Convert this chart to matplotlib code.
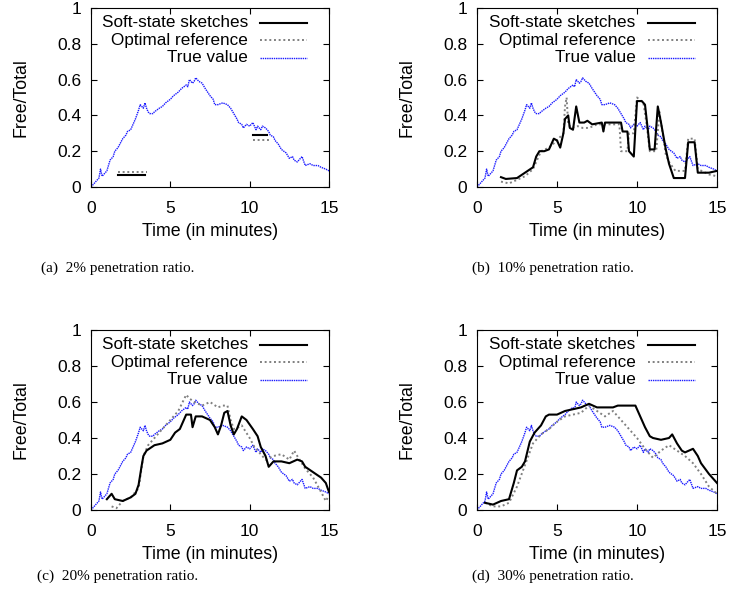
import numpy as np
import matplotlib.pyplot as plt

# true value (same in every panel)
true_t = [0, 0.2, 0.4, 0.5, 0.6, 0.7, 0.8, 1.0, 1.1, 1.2, 1.4, 1.5, 1.7, 2.0, 2.2, 2.3, 2.5,
          2.7, 2.8, 3.0, 3.1, 3.2, 3.3, 3.4, 3.5, 3.6, 3.7, 3.9, 4.0, 4.3, 4.5, 4.7, 5.0,
          5.2, 5.5, 5.7, 6.0, 6.1, 6.2, 6.4, 6.5, 6.6, 6.8, 7.0, 7.2, 7.5, 7.7, 7.8, 8.0,
          8.3, 8.6, 8.8, 9.0, 9.2, 9.3, 9.5, 9.6, 9.8, 10.0, 10.2, 10.4, 10.5, 10.7, 10.8,
          11.0, 11.2, 11.3, 11.5, 11.6, 11.8, 12.0, 12.3, 12.5, 12.7, 12.8, 13.0, 13.2,
          13.3, 13.5, 13.8, 14.0, 14.3, 14.5, 14.8, 15.0]
true_v = [0.0, 0.02, 0.04, 0.05, 0.1, 0.06, 0.07, 0.09, 0.12, 0.15, 0.17, 0.2, 0.22, 0.27,
          0.29, 0.31, 0.32, 0.36, 0.38, 0.43, 0.46, 0.45, 0.44, 0.47, 0.44, 0.42, 0.41,
          0.41, 0.42, 0.44, 0.45, 0.47, 0.49, 0.51, 0.53, 0.55, 0.57, 0.56, 0.6, 0.58,
          0.59, 0.61, 0.59, 0.58, 0.55, 0.51, 0.49, 0.46, 0.46, 0.47, 0.46, 0.44, 0.41,
          0.38, 0.36, 0.35, 0.33, 0.35, 0.34, 0.36, 0.32, 0.34, 0.32, 0.34, 0.33, 0.31,
          0.29, 0.28, 0.26, 0.24, 0.21, 0.19, 0.16, 0.17, 0.15, 0.14, 0.16, 0.17, 0.12,
          0.13, 0.12, 0.12, 0.11, 0.1, 0.09]

# (a) 2%
soft_a_t = [1.7, 3.4, np.nan, 10.2, 11.1]
soft_a_v = [0.065, 0.065, np.nan, 0.29, 0.29]
opt_a_t = [1.7, 3.5, np.nan, 4.45, 4.5, np.nan, 4.45, 4.5, np.nan, 10.2, 11.2]
opt_a_v = [0.085, 0.085, np.nan, 0.07, 0.07, np.nan, 0.04, 0.04, np.nan, 0.265, 0.265]

# (b) 10%
soft_b_t = [1.5, 1.8, 2.5, 3.0, 3.5, 3.7, 3.9, 4.2, 4.5, 4.8, 5.0, 5.2, 5.4, 5.5, 5.7, 5.8,
            6.0, 6.2, 6.4, 6.7, 6.9, 7.2, 7.8, 7.9, 8.0, 9.0, 9.1, 9.4, 9.5, 9.8, 10.0,
            10.3, 10.5, 10.7, 10.8, 11.1, 11.3, 11.5, 11.8, 12.0, 12.3, 13.0, 13.2, 13.6,
            13.8, 14.0, 14.5, 15.0]
soft_b_v = [0.055, 0.045, 0.05, 0.08, 0.11, 0.17, 0.2, 0.2, 0.21, 0.27, 0.26, 0.22, 0.3,
            0.38, 0.4, 0.33, 0.32, 0.45, 0.36, 0.36, 0.37, 0.35, 0.36, 0.31, 0.36, 0.36,
            0.31, 0.31, 0.2, 0.17, 0.48, 0.48, 0.46, 0.3, 0.21, 0.21, 0.45, 0.36, 0.21,
            0.13, 0.05, 0.05, 0.25, 0.25, 0.08, 0.08, 0.08, 0.09]
opt_b_t = [1.5, 2.0, 3.0, 3.5, 4.0, 4.5, 5.0, 5.4, 5.5, 5.6, 5.7, 5.9, 6.3, 6.6, 7.0, 7.5,
           8.5, 8.9, 9.0, 9.4, 9.5, 9.8, 10.0, 10.4, 10.6, 10.8, 11.2, 11.4, 11.6, 11.8,
           12.0, 12.4, 13.0, 13.2, 13.6, 13.8, 14.5, 15.0]
opt_b_v = [0.03, 0.02, 0.06, 0.1, 0.2, 0.22, 0.26, 0.3, 0.45, 0.5, 0.35, 0.33, 0.34, 0.33,
           0.33, 0.35, 0.35, 0.35, 0.2, 0.2, 0.3, 0.3, 0.5, 0.47, 0.35, 0.2, 0.2, 0.42,
           0.3, 0.18, 0.14, 0.09, 0.09, 0.27, 0.27, 0.1, 0.07, 0.06]

# (c) 20%
soft_c_t = [1.0, 1.3, 1.5, 2.0, 2.5, 2.8, 3.0, 3.2, 3.3, 3.5, 4.0, 4.5, 5.0, 5.3, 5.6, 6.0,
            6.3, 6.4, 6.6, 7.0, 7.5, 7.8, 8.0, 8.2, 8.4, 8.6, 8.8, 9.0, 9.2, 9.5, 9.8,
            10.2, 10.5, 10.7, 11.0, 11.2, 11.5, 12.0, 12.5, 13.0, 13.3, 13.5, 14.0, 14.5,
            14.8, 15.0]
soft_c_v = [0.06, 0.09, 0.06, 0.05, 0.07, 0.09, 0.14, 0.25, 0.3, 0.33, 0.36, 0.37, 0.39,
            0.43, 0.45, 0.53, 0.53, 0.46, 0.52, 0.52, 0.5, 0.46, 0.42, 0.47, 0.54, 0.55,
            0.47, 0.42, 0.45, 0.52, 0.5, 0.45, 0.41, 0.35, 0.3, 0.24, 0.27, 0.27, 0.26,
            0.28, 0.27, 0.24, 0.21, 0.18, 0.15, 0.1]
opt_c_t = [1.3, 1.6, 2.0, 2.5, 3.0, 3.3, 3.6, 4.0, 4.5, 5.0, 5.5, 6.0, 6.2, 6.5, 7.0, 7.5,
           8.0, 8.3, 8.6, 8.8, 9.0, 9.3, 9.5, 10.0, 10.3, 10.8, 11.0, 11.5, 12.0, 12.5,
           12.8, 13.0, 13.5, 14.0, 14.5, 14.8, 15.0]
opt_c_v = [0.02, 0.01, 0.05, 0.07, 0.12, 0.3, 0.36, 0.4, 0.45, 0.5, 0.55, 0.64, 0.62, 0.6,
           0.58, 0.6, 0.57, 0.58, 0.58, 0.5, 0.45, 0.46, 0.47, 0.4, 0.35, 0.3, 0.28, 0.3,
           0.31, 0.28, 0.33, 0.3, 0.23, 0.18, 0.1, 0.05, 0.08]

# (d) 30%
soft_d_t = [0.5, 1.0, 1.5, 2.0, 2.3, 2.5, 2.8, 3.0, 3.3, 3.6, 4.0, 4.3, 4.5, 5.0, 5.5, 6.0,
            6.5, 7.0, 7.5, 8.0, 8.5, 8.8, 9.0, 9.5, 9.9, 10.2, 10.5, 10.8, 11.0, 11.5,
            12.0, 12.2, 12.5, 12.8, 13.0, 13.5, 13.8, 14.0, 14.5, 15.0]
soft_d_v = [0.04, 0.03, 0.05, 0.06, 0.15, 0.22, 0.24, 0.27, 0.38, 0.43, 0.47, 0.52, 0.53,
            0.53, 0.55, 0.56, 0.57, 0.59, 0.57, 0.57, 0.57, 0.58, 0.58, 0.58, 0.58, 0.52,
            0.46, 0.41, 0.4, 0.39, 0.4, 0.42, 0.37, 0.33, 0.32, 0.34, 0.3, 0.26, 0.2, 0.15]
opt_d_t = [0.5, 1.0, 1.5, 2.0, 2.5, 3.0, 3.5, 4.0, 4.5, 5.0, 5.5, 6.0, 6.5, 7.0, 7.5, 8.0,
           8.5, 9.0, 9.5, 10.0, 10.5, 11.0, 11.5, 12.0, 12.5, 13.0, 13.5, 14.0, 14.5, 15.0]
opt_d_v = [0.04, 0.02, 0.02, 0.04, 0.13, 0.25, 0.37, 0.42, 0.45, 0.49, 0.52, 0.53, 0.54,
           0.58, 0.55, 0.52, 0.55, 0.5, 0.45, 0.4, 0.34, 0.29, 0.33, 0.36, 0.33, 0.3,
           0.26, 0.2, 0.13, 0.09]

captions = ["(a)  2% penetration ratio.", "(b)  10% penetration ratio.",
            "(c)  20% penetration ratio.", "(d)  30% penetration ratio."]

plt.rcParams['font.family'] = 'Liberation Sans'

W, H = 729, 606
fig = plt.figure(figsize=(W / 100, H / 100), dpi=100)

# axes boxes in pixels: left, top, right, bottom
boxes = [(91, 8, 329, 187), (477, 8, 717, 187), (91, 330, 329, 510), (477, 330, 717, 510)]
panels = [(soft_a_t, soft_a_v, opt_a_t, opt_a_v), (soft_b_t, soft_b_v, opt_b_t, opt_b_v),
          (soft_c_t, soft_c_v, opt_c_t, opt_c_v), (soft_d_t, soft_d_v, opt_d_t, opt_d_v)]
cap_pos = [(118, 268), (553, 268), (118, 576), (553, 576)]

blue = '#1a1aff'
grey = '#808080'
dot_grey = (0, (1.0, 1.4))
dot_blue = (0, (1, 0.6))

for i in range(4):
    l, t, r, b = boxes[i]
    ax = fig.add_axes([l / W, 1 - b / H, (r - l) / W, (b - t) / H])
    st, sv, ot, ov = panels[i]
    ax.plot(true_t, true_v, color=blue, lw=1.0, ls=dot_blue)
    ax.plot(ot, ov, color=grey, lw=1.4, ls=dot_grey)
    ax.plot(st, sv, color='black', lw=1.5)
    ax.set_xlim(0, 15)
    ax.set_ylim(0, 1)
    ax.set_xticks([0, 5, 10, 15])
    ax.set_yticks([0, 0.2, 0.4, 0.6, 0.8, 1])
    ax.set_yticklabels(['0', '0.2', '0.4', '0.6', '0.8', '1'])
    ax.tick_params(direction='in', top=True, right=True, labelsize=12.5, length=4)
    ax.tick_params(axis='x', pad=10)
    ax.tick_params(axis='y', pad=7)
    ax.set_xlabel('Time (in minutes)', fontsize=12.8, labelpad=5)
    ax.set_ylabel('Free/Total', fontsize=12.8, labelpad=20)

    # gnuplot-style key: right-aligned text, sample line after it
    keys = [('Soft-state sketches', 'black', '-', 1.5),
            ('Optimal reference', grey, dot_grey, 1.4),
            ('True value', blue, dot_blue, 1.0)]
    for k, (lab, c, ls, lw) in enumerate(keys):
        yk = 0.917 - k * 0.097
        ax.text(0.66, yk, lab, transform=ax.transAxes, ha='right', va='center', fontsize=12.3)
        ax.plot([0.712, 0.908], [yk, yk], transform=ax.transAxes, color=c, ls=ls, lw=lw)

    fig.text(cap_pos[i][0] / W, 1 - cap_pos[i][1] / H, captions[i], ha='center', va='center',
             family='Liberation Serif', fontsize=11)

fig.savefig('out.png', dpi=100)
